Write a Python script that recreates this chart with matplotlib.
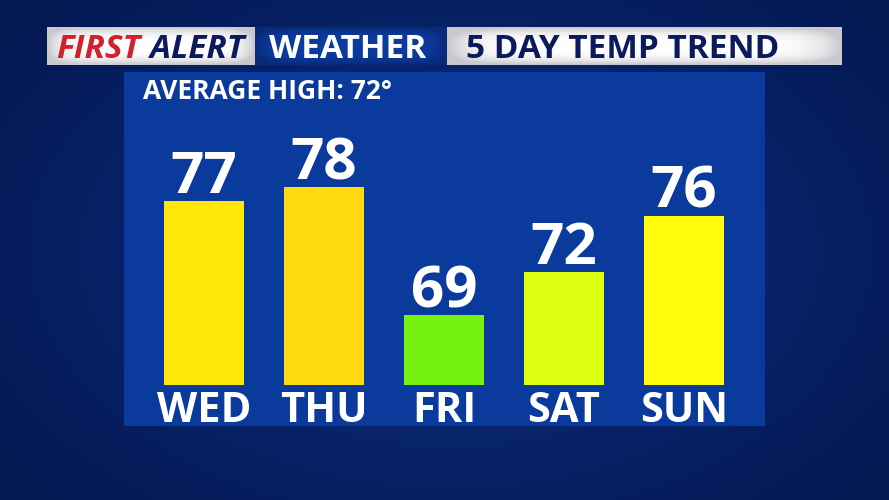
import numpy as np
import matplotlib
matplotlib.use("Agg")
import matplotlib.pyplot as plt

# data
days = ["WED", "THU", "FRI", "SAT", "SUN"]
highs = [77, 78, 69, 72, 76]
bar_colors = ["#ffe70a", "#ffda0e", "#76f20f", "#deff0f", "#fffb0b"]
average_high = 72
title_parts = ["FIRST", "ALERT", "WEATHER", "5 DAY TEMP TREND"]

W, H = 889, 500
plt.rcParams['font.family'] = ['Open Sans', 'DejaVu Sans']

fig = plt.figure(figsize=(W / 100, H / 100), dpi=100)

# background (pixel coordinates, y down)
bg = fig.add_axes([0, 0, 1, 1])
bg.axis("off")
yy, xx = np.mgrid[0:H, 0:W]
r = np.sqrt(((xx - 450) / 560.0) ** 2 + ((yy - 250) / 360.0) ** 2)
c0 = np.array([0x0b, 0x30, 0x86]) / 255.0
c1 = np.array([0x04, 0x18, 0x52]) / 255.0
t = np.clip(r, 0, 1)[..., None]
bg.imshow(c0 * (1 - t) + c1 * t, extent=(0, W, H, 0), aspect="auto", zorder=0)

# header boxes with a soft grey shading at the edges
def shaded_box(x0, x1, y0, y1, edge, mid):
    v = np.abs(np.linspace(-1, 1, 40))[:, None, None] ** 3
    h = np.abs(np.linspace(-1, 1, 200))[None, :, None] ** 8
    k = np.clip(v + h, 0, 1)
    a = np.array(mid) / 255.0
    b = np.array(edge) / 255.0
    bg.imshow(a * (1 - k) + b * k, extent=(x0, x1, y1, y0), aspect="auto", zorder=1)

shaded_box(47, 255, 27, 65, (200, 200, 205), (255, 255, 255))
shaded_box(255, 447, 27, 65, (8, 42, 120), (12, 60, 160))
shaded_box(447, 842, 27, 65, (200, 200, 205), (255, 255, 255))
bg.set_xlim(0, W)
bg.set_ylim(H, 0)

bg.text(56, 58, title_parts[0], color="#d4202c", fontsize=24, fontweight="bold",
        style="italic", va="baseline", ha="left", zorder=2)
bg.text(150, 58, title_parts[1], color="#0b1a5c", fontsize=24, fontweight="bold",
        style="italic", va="baseline", ha="left", zorder=2)
bg.text(348, 58, title_parts[2], color="white", fontsize=24, fontweight="bold",
        va="baseline", ha="center", zorder=2)
bg.text(623, 58, title_parts[3], color="#0b1a5c", fontsize=24, fontweight="bold",
        va="baseline", ha="center", zorder=2)

# chart panel
px0, px1, py0, py1 = 124, 765, 72, 426
ax = fig.add_axes([px0 / W, 1 - py1 / H, (px1 - px0) / W, (py1 - py0) / H])
ax.set_facecolor("#0a3a9c")
for s in ax.spines.values():
    s.set_visible(False)
ax.set_xticks([])
ax.set_yticks([])

base = 64.1
x = np.arange(len(days))
ax.bar(x, np.array(highs) - base, bottom=base, width=0.667, color=bar_colors, zorder=2)
ax.set_xlim(-0.667, 4.675)
ax.set_ylim(61.2, 86.1)

for xi, v in zip(x, highs):
    ax.text(xi, v + 0.56, str(v), color="white", fontsize=42, fontweight="bold",
            ha="center", va="baseline", zorder=3)
for xi, d in zip(x, days):
    ax.text(xi, 61.5, d, color="white", fontsize=30, fontweight="bold",
            ha="center", va="baseline", zorder=3, clip_on=False)

ax.text(0.03, 0.925, f"AVERAGE HIGH: {average_high}\u00b0", transform=ax.transAxes,
        color="white", fontsize=19, fontweight="bold", ha="left", va="baseline")

fig.savefig("out.png", dpi=100)
